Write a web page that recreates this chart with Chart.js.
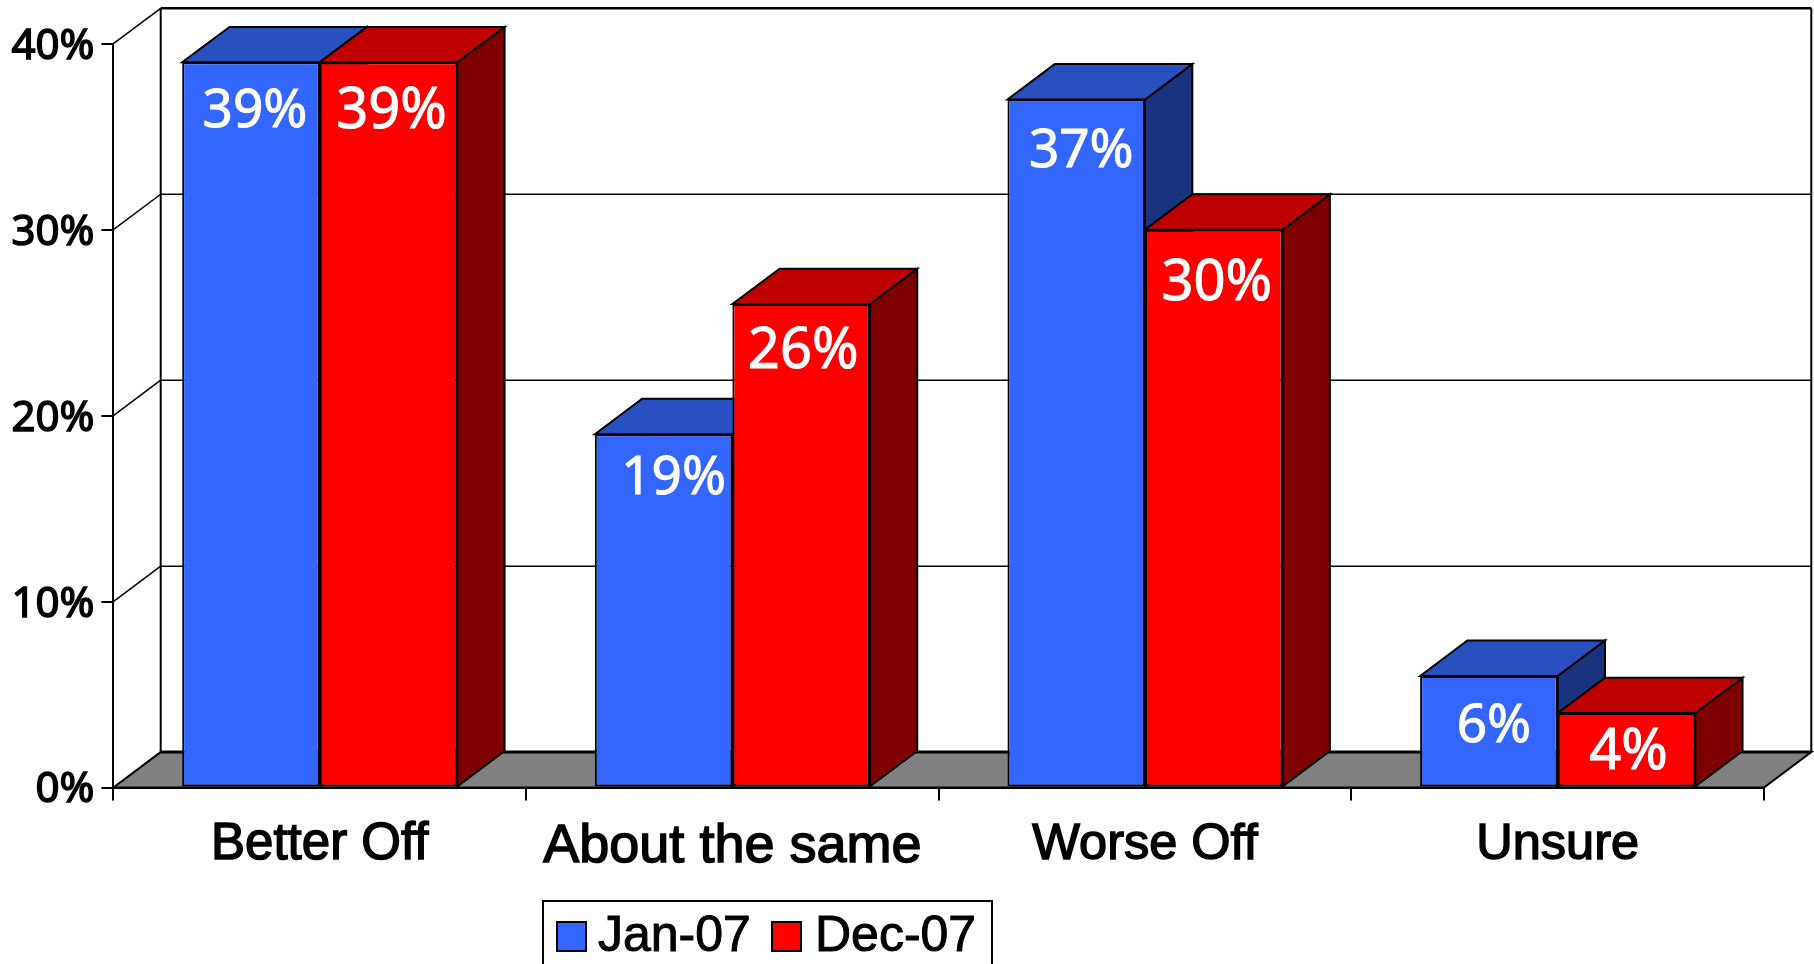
<!DOCTYPE html>
<html>
<head>
<meta charset="utf-8">
<title>Better off</title>
<script src="https://cdn.jsdelivr.net/npm/chart.js@4"></script>
<style>
  html, body { margin: 0; padding: 0; background: #fff; overflow: hidden; }
  canvas { display: block; }
</style>
</head>
<body>
<canvas id="myChart" width="1814" height="964"></canvas>
<script>
const categories = ["Better Off", "About the same", "Worse Off", "Unsure"];
const jan07 = [39, 19, 37, 6];
const dec07 = [39, 26, 30, 4];
const yTicks = [0, 10, 20, 30, 40];
const seriesNames = ["Jan-07", "Dec-07"];

const fronts = ["#3366ff", "#ff0000"];
const tops = ["#2850bf", "#bf0000"];
const sides = ["#1a337f", "#7f0000"];
const labelSizes = [53, 56];
const categoryFontSizes = [51, 54, 50.5, 50.5];

// the labels were placed by hand in the original, so each one gets its own nudge
const labelNudgeX = [[4, 10, 5, 5], [3, 2, 3, 2]];
const labelDrop = [[50, 45, 52, 51], [50, 48, 54, 40]];

// how far the back wall sits from the front plane
const depthX = 47.3;
const depthY = 35.4;

function poly(ctx, pts, fill, width) {
    ctx.beginPath();
    ctx.moveTo(pts[0][0], pts[0][1]);
    for (let i = 1; i < pts.length; i++) {
        ctx.lineTo(pts[i][0], pts[i][1]);
    }
    ctx.closePath();
    if (fill) {
        ctx.fillStyle = fill;
        ctx.fill();
    }
    ctx.lineWidth = width;
    ctx.strokeStyle = "#000";
    ctx.stroke();
}

function line(ctx, x1, y1, x2, y2, width) {
    ctx.beginPath();
    ctx.moveTo(x1, y1);
    ctx.lineTo(x2, y2);
    ctx.lineWidth = width;
    ctx.strokeStyle = "#000";
    ctx.stroke();
}

const box3d = {
    id: "box3d",
    beforeDatasetsDraw(chart) {
        const ctx = chart.ctx;
        const area = chart.chartArea;
        const y = chart.scales.y;
        ctx.save();

        // floor
        poly(ctx, [
            [area.left, area.bottom],
            [area.left + depthX, area.bottom - depthY],
            [area.right + depthX, area.bottom - depthY],
            [area.right, area.bottom]
        ], "#808080", 2);
        line(ctx, area.left + depthX, area.bottom - depthY, area.right + depthX, area.bottom - depthY, 3);

        // walls and gridlines
        line(ctx, area.left + depthX, area.top - depthY, area.left + depthX, area.bottom - depthY, 2);
        line(ctx, area.right + depthX, area.top - depthY, area.right + depthX, area.bottom - depthY, 2);
        for (let i = 1; i < yTicks.length; i++) {
            const py = y.getPixelForValue(yTicks[i]);
            const w = i === yTicks.length - 1 ? 2.5 : 1.5;
            line(ctx, area.left, py, area.left + depthX, py - depthY, 1.5);
            line(ctx, area.left + depthX, py - depthY, area.right + depthX, py - depthY, w);
        }

        // tops and sides, the fronts come from the library on top of these
        for (let c = 0; c < categories.length; c++) {
            chart.data.datasets.forEach((ds, d) => {
                const bar = chart.getDatasetMeta(d).data[c];
                const p = bar.getProps(["x", "y", "base", "width"], true);
                const l = p.x - p.width / 2;
                const r = p.x + p.width / 2;
                poly(ctx, [[r, p.y], [r + depthX, p.y - depthY], [r + depthX, p.base - depthY], [r, p.base]], sides[d], 2);
                poly(ctx, [[l, p.y], [l + depthX, p.y - depthY], [r + depthX, p.y - depthY], [r, p.y]], tops[d], 2);
            });
        }
        ctx.restore();
    },
    afterDatasetsDraw(chart) {
        const ctx = chart.ctx;
        ctx.save();
        ctx.fillStyle = "#fff";
        ctx.strokeStyle = "#fff";
        ctx.lineWidth = 1;
        ctx.textAlign = "center";
        ctx.textBaseline = "middle";
        chart.data.datasets.forEach((ds, d) => {
            ctx.font = labelSizes[d] + 'px "Noto Sans"';
            chart.getDatasetMeta(d).data.forEach((bar, i) => {
                const p = bar.getProps(["x", "y"], true);
                const tx = p.x + labelNudgeX[d][i];
                const ty = p.y + labelDrop[d][i];
                ctx.fillText(ds.data[i] + "%", tx, ty);
                ctx.strokeText(ds.data[i] + "%", tx, ty);
            });
        });
        ctx.restore();
    },
    afterDraw(chart) {
        // legend runs off the bottom of the page like the original
        const ctx = chart.ctx;
        ctx.save();
        ctx.strokeStyle = "#000";
        ctx.lineWidth = 2;
        ctx.strokeRect(543, 901, 449, 90);
        const swatchX = [557, 772];
        const textX = [598, 815];
        ctx.font = '50px "Liberation Sans"';
        ctx.textBaseline = "middle";
        ctx.textAlign = "left";
        seriesNames.forEach((name, d) => {
            ctx.fillStyle = fronts[d];
            ctx.fillRect(swatchX[d], 922, 29, 29);
            ctx.strokeRect(swatchX[d], 922, 29, 29);
            ctx.fillStyle = "#000";
            ctx.fillText(name, textX[d], 937);
            ctx.lineWidth = 1;
            ctx.strokeText(name, textX[d], 937);
            ctx.lineWidth = 2;
        });
        ctx.restore();
    }
};

const myChart = new Chart(document.getElementById("myChart"), {
    type: "bar",
    data: {
        labels: categories,
        datasets: [
            { label: seriesNames[0], data: jan07, backgroundColor: fronts[0] },
            { label: seriesNames[1], data: dec07, backgroundColor: fronts[1] }
        ]
    },
    options: {
        responsive: false,
        animation: false,
        events: [],
        layout: { autoPadding: false, padding: { top: 43.7, right: 50 } },
        datasets: {
            bar: {
                categoryPercentage: 0.6667,
                barPercentage: 1,
                borderColor: "#000",
                borderWidth: 2,
                borderSkipped: false
            }
        },
        scales: {
            x: {
                afterFit(scale) { scale.height = 176.5; },
                border: { color: "#000", width: 3 },
                grid: { drawOnChartArea: false, color: "#000", lineWidth: 2, tickLength: 13 },
                ticks: {
                    color: "#000",
                    padding: 14,
                    maxRotation: 0,
                    font: c => ({ family: "Liberation Sans", size: categoryFontSizes[c.index] }),
                    textStrokeColor: "#000",
                    textStrokeWidth: 1.5
                }
            },
            y: {
                min: 0,
                max: 40,
                afterFit(scale) { scale.width = 113.4; },
                afterBuildTicks(scale) { scale.ticks = yTicks.map(v => ({ value: v })); },
                border: { color: "#000", width: 2 },
                grid: { drawOnChartArea: false, color: "#000", lineWidth: 2, tickLength: 12 },
                ticks: {
                    color: "#000",
                    padding: 7,
                    labelOffset: 3,
                    font: { family: "Noto Sans", size: 42 },
                    textStrokeColor: "#000",
                    textStrokeWidth: 1.5,
                    callback: v => v + "%"
                }
            }
        },
        plugins: {
            legend: { display: false },
            tooltip: { enabled: false },
            title: { display: false }
        }
    },
    plugins: [box3d]
});
</script>
</body>
</html>
